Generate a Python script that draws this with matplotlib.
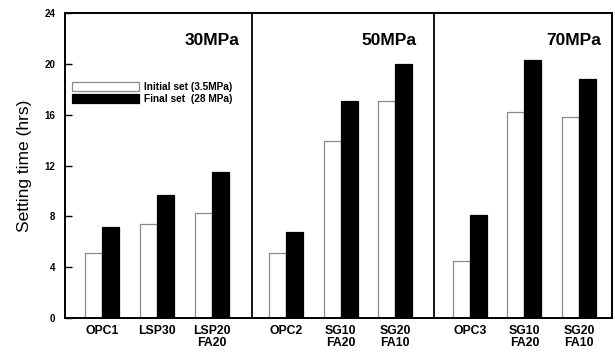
import matplotlib
matplotlib.use("Agg")
import matplotlib.pyplot as plt

groups = ["30MPa", "50MPa", "70MPa"]
categories = ["OPC1", "LSP30", "LSP20\nFA20",
              "OPC2", "SG10\nFA20", "SG20\nFA10",
              "OPC3", "SG10\nFA20", "SG20\nFA10"]
initial_set = [5.1, 7.4, 8.3, 5.1, 13.9, 17.1, 4.5, 16.2, 15.8]
final_set = [7.2, 9.65, 11.5, 6.75, 17.1, 20.0, 8.1, 20.3, 18.8]
yticks = [0, 4, 8, 12, 16, 20, 24]

fig = plt.figure(figsize=(6.15, 3.52), dpi=100)
ax = fig.add_axes([0.1057, 0.0966, 0.8893, 0.8664])

group_start = [0.68, 4.04, 7.40]
pos = []
for g in range(3):
    for i in range(3):
        pos.append(group_start[g] + i)
w = 0.31
ax.bar([p - w / 2 for p in pos], initial_set, width=w, color="white",
       edgecolor="#8a8a8a", linewidth=0.9, label="Initial set (3.5MPa)")
ax.bar([p + w / 2 for p in pos], final_set, width=w, color="black",
       edgecolor="black", linewidth=0.9, label="Final set  (28 MPa)")

for d in [3.42, 6.75]:
    ax.axvline(d, color="black", linewidth=1.3)

ax.set_xlim(0, 10)
ax.set_ylim(0, 24)
ax.set_yticks(yticks)
ax.set_yticklabels([str(v) for v in yticks], fontsize=7, fontweight="bold",
                   family="Liberation Sans")
ax.tick_params(axis="y", direction="in", length=5, width=1, pad=7)
ax.set_xticks(pos)
ax.set_xticklabels(categories, fontsize=8.8, fontweight="bold",
                   family="Liberation Sans", linespacing=1.0)
ax.tick_params(axis="x", length=0, pad=5)
for s in ax.spines.values():
    s.set_linewidth(1.4)

label_x = [2.69, 5.93, 9.3]
for gx, gl in zip(label_x, groups):
    ax.text(gx, 21.8, gl, ha="center", va="center", fontsize=12.5,
            fontweight="bold", family="Liberation Sans")

ax.set_ylabel("Setting time (hrs)", fontsize=12.5,
              family="Liberation Sans", labelpad=9)

leg = ax.legend(loc="upper left", bbox_to_anchor=(0.004, 0.79), frameon=False,
                borderpad=0, handlelength=6.6, handleheight=1.0,
                handletextpad=0.5, labelspacing=0.15,
                prop={"family": "Liberation Sans", "weight": "bold", "size": 7.3})

fig.savefig("out.png", dpi=100)
